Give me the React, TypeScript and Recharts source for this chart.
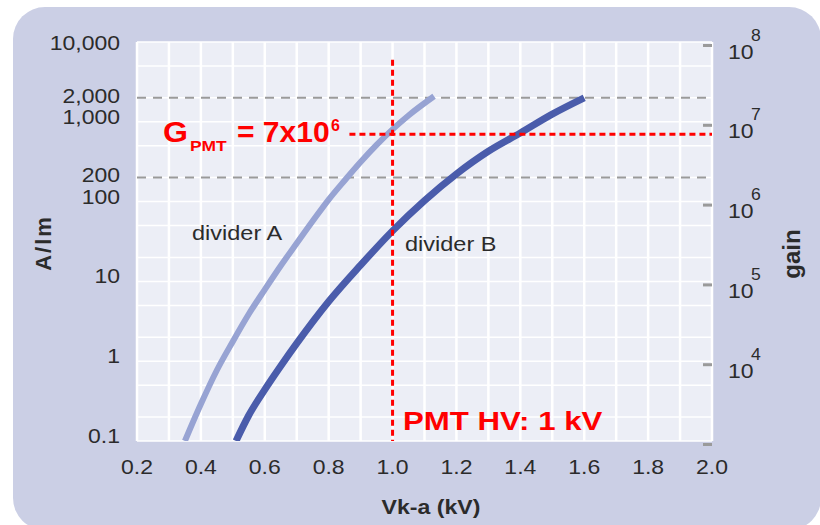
import { CartesianGrid, ComposedChart, Line, ReferenceLine, XAxis, YAxis } from 'recharts';

// divider A (light) and divider B (dark): cathode-anode voltage (kV) vs anode sensitivity (A/lm)
const voltsA = [0.35, 0.4, 0.45, 0.5, 0.55, 0.6, 0.65, 0.7, 0.75, 0.8, 0.85, 0.9, 0.95, 1.0, 1.05, 1.13];
const ampsA = [0.1, 0.29, 0.77, 1.77, 3.9, 7.9, 15.7, 30, 57, 106, 184, 313, 513, 804, 1200, 2090];
const voltsB = [0.51, 0.55, 0.6, 0.65, 0.7, 0.8, 0.9, 1.0, 1.1, 1.2, 1.3, 1.4, 1.5, 1.6];
const ampsB = [0.1, 0.21, 0.44, 0.87, 1.67, 5.6, 16, 43, 103, 222, 427, 725, 1250, 2000];

const xTicks = [0.2, 0.4, 0.6, 0.8, 1.0, 1.2, 1.4, 1.6, 1.8, 2.0];
const leftTicks = [0.1, 1, 10, 100, 200, 1000, 2000, 10000];
const leftLabels: Record<number, string> = {
    0.1: '0.1', 1: '1', 10: '10', 100: '100', 200: '200', 1000: '1,000', 2000: '2,000', 10000: '10,000',
};
const gainTicks = [1e3, 1e4, 1e5, 1e6, 1e7, 1e8];
const dashedLevels = [200, 2000];
const pmtVoltage = 1.0;
const pmtGain = 7e6;

const dataA = voltsA.map((v, i) => ({ v, a: ampsA[i] }));
const dataB = voltsB.map((v, i) => ({ v, b: ampsB[i] }));

// grid values: minor log steps and every 0.1 kV
const hGrid: number[] = [];
[0.1, 1, 10, 100, 1000].forEach((d) => {
    for (let k = 1; k < 10; k++) hGrid.push(d * k);
});
hGrid.push(10000);
const vGrid: number[] = [];
for (let i = 2; i <= 20; i++) vGrid.push(i / 10);

const FONT = '"Liberation Sans", Arial, sans-serif';
const PLOT = { left: 137, right: 712, top: 42, bottom: 441 };
const TEXT = '#2b2b2b';

function LeftTick({ y, payload }: any) {
    const v = payload.value;
    const nudge = v === 10000 ? 8 : v === 2000 ? 5 : v === 200 ? 4 : 2;
    return (
        <text transform={`translate(120, ${y + nudge}) scale(1.15, 1)`} textAnchor="end" fontSize={20} fill={TEXT} fontFamily={FONT}>
            {leftLabels[v]}
        </text>
    );
}

function RightTick({ y, payload }: any) {
    const exp = Math.round(Math.log10(payload.value));
    const yy = y + 3.5;
    return (
        <g>
            <rect x={PLOT.right - 9} y={yy - 1.5} width={9} height={3} fill="#9a9a9a" />
            {exp > 3 && (
                <>
                    <text transform={`translate(728, ${yy + 13}) scale(1.15, 1)`} fontSize={20} fill={TEXT} fontFamily={FONT}>10</text>
                    <text transform={`translate(751, ${yy - 5}) scale(1.1, 1)`} fontSize={16} fill={TEXT} fontFamily={FONT}>{exp}</text>
                </>
            )}
        </g>
    );
}

function XTick({ x, payload }: any) {
    return (
        <text transform={`translate(${x}, ${PLOT.bottom + 33}) scale(1.15, 1)`} textAnchor="middle" fontSize={20} fill={TEXT} fontFamily={FONT}>
            {Number(payload.value).toFixed(1)}
        </text>
    );
}

export default function App() {
    return (
        <div style={{ position: 'absolute', left: 0, top: 0, width: 820, height: 525, overflow: 'hidden', background: '#fff' }}>
            <div style={{ position: 'absolute', left: 13, top: 7, width: 808, height: 523, borderRadius: 32, background: '#cbcfe5' }} />
            <div style={{ position: 'absolute', left: 0, top: 0 }}>
                <ComposedChart
                    width={820}
                    height={525}
                    margin={{ top: PLOT.top, right: 820 - PLOT.right - 80, bottom: 525 - PLOT.bottom - 50, left: PLOT.left - 100 }}
                >
                    <CartesianGrid yAxisId="left" fill="#eceef6" fillOpacity={1} vertical={false} horizontalValues={hGrid} stroke="#ffffff" strokeWidth={1.5} />
                    <CartesianGrid yAxisId="left" horizontal={false} verticalValues={vGrid} stroke="#ffffff" strokeWidth={2.5} />
                    <XAxis dataKey="v" type="number" domain={[0.2, 2.0]} ticks={xTicks} allowDataOverflow axisLine={false} tickLine={false} height={50} tick={<XTick />} />
                    <YAxis yAxisId="left" scale="log" type="number" domain={[0.1, 10000]} ticks={leftTicks} allowDataOverflow axisLine={false} tickLine={false} width={100} tick={<LeftTick />} />
                    <YAxis yAxisId="right" orientation="right" scale="log" type="number" domain={[1e3, 1e8]} ticks={gainTicks} allowDataOverflow axisLine={false} tickLine={false} width={80} tick={<RightTick />} />
                    {dashedLevels.map((lv) => (
                        <ReferenceLine key={lv} yAxisId="left" y={lv} stroke="#9a9a9a" strokeWidth={2} strokeDasharray="9 7" />
                    ))}
                    <Line yAxisId="left" data={dataA} dataKey="a" type="monotone" stroke="#97a3d3" strokeWidth={6} dot={false} isAnimationActive={false} />
                    <Line yAxisId="left" data={dataB} dataKey="b" type="monotone" stroke="#4a5cab" strokeWidth={7} dot={false} isAnimationActive={false} />
                    <ReferenceLine
                        yAxisId="left"
                        segment={[{ x: pmtVoltage, y: 6000 }, { x: pmtVoltage, y: 0.1 }]}
                        stroke="#ff0000"
                        strokeWidth={3}
                        strokeDasharray="6 4"
                    />
                    <ReferenceLine
                        yAxisId="right"
                        segment={[{ x: 0.865, y: pmtGain }, { x: 2.0, y: pmtGain }]}
                        stroke="#ff0000"
                        strokeWidth={3}
                        strokeDasharray="6 4"
                    />
                </ComposedChart>
            </div>
            <svg width={820} height={525} style={{ position: 'absolute', left: 0, top: 0, pointerEvents: 'none' }} fontFamily={FONT}>
                <text transform="translate(192, 240) scale(1.12, 1)" fontSize={21} fill={TEXT}>divider A</text>
                <text transform="translate(405, 251) scale(1.12, 1)" fontSize={21} fill={TEXT}>divider B</text>
                <text transform="translate(403, 430) scale(1.2, 1)" fontSize={26} fontWeight="bold" fill="#ff0000">PMT HV: 1 kV</text>
                <text transform="translate(163, 141.5) scale(1.07, 1)" fontSize={30} fontWeight="bold" fill="#ff0000">G</text>
                <text transform="translate(190, 151) scale(1.16, 1)" fontSize={15} fontWeight="bold" fill="#ff0000">PMT</text>
                <text transform="translate(237, 141.5)" fontSize={30} fontWeight="bold" fill="#ff0000">= 7x10</text>
                <text transform="translate(331, 131)" fontSize={16} fontWeight="bold" fill="#ff0000">6</text>
                <text transform="translate(51, 243) rotate(-90)" textAnchor="middle" fontSize={22} fontWeight="bold" fill={TEXT} letterSpacing={2}>A/lm</text>
                <text transform="translate(800, 254) rotate(-90)" textAnchor="middle" fontSize={24} fontWeight="bold" fill={TEXT}>gain</text>
                <text transform="translate(431, 514) scale(1.1, 1)" textAnchor="middle" fontSize={21} fontWeight="bold" fill={TEXT}>Vk-a (kV)</text>
            </svg>
        </div>
    );
}
